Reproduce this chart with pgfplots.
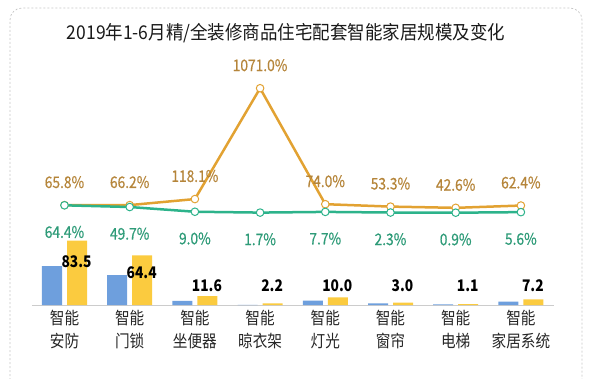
\documentclass[border=0pt]{standalone}
\usepackage{fontspec}
\setmainfont{Noto Sans CJK SC}[FakeStretch=0.86]
\newfontfamily\titlefont{Noto Sans CJK SC}[FakeStretch=0.92]
\newfontfamily\labelfont{Noto Sans CJK SC}[FakeStretch=0.86, FakeBold=0.6]
\usepackage{pgfplots}
\pgfplotsset{compat=1.18}
\definecolor{cblue}{HTML}{6E9FDD}
\definecolor{cyellow}{HTML}{FBCB3F}
\definecolor{corange}{HTML}{E2A232}
\definecolor{corangetxt}{HTML}{B5853A}
\definecolor{cgreen}{HTML}{2DB38B}
\definecolor{cgreentxt}{HTML}{2E9B78}
\begin{document}
\begin{tikzpicture}
\path[use as bounding box] (0pt,0pt) rectangle (589pt,378pt);
\draw[gray!45, line width=0.7pt, dash pattern=on 2pt off 2pt, rounded corners=12pt]
  (10pt,-10pt) -- (10pt,370pt) -- (582pt,370pt) -- (582pt,-10pt);
\node[font=\titlefont\fontsize{19}{21}\selectfont, text=black!90] at (286pt,345pt) {2019年1-6月精/全装修商品住宅配套智能家居规模及变化};
% bars
\begin{axis}[
  at={(31.9pt,73pt)}, anchor=south west, scale only axis,
  width=521.6pt, height=230pt,
  xmin=-0.5, xmax=7.5, ymin=0, ymax=298.7,
  axis x line*=bottom, axis y line=none,
  x axis line style={draw=gray!40, line width=0.6pt, -},
  xtick={0,...,7}, major tick length=0pt,
  xticklabels={{智能\\安防},{智能\\门锁},{智能\\坐便器},{智能\\晾衣架},{智能\\灯光},{智能\\窗帘},{智能\\电梯},{智能\\家居系统}},
  xticklabel style={align=center, font=\fontsize{17}{23}\selectfont, text=black!85, yshift=-2pt},
  ybar, bar width=20pt, clip=false,
]
\addplot[fill=cblue, draw=none, bar shift=-12.5pt] coordinates {(0,50.4) (1,38.7) (2,5.3) (3,0.19) (4,5.7) (5,1.96) (6,0.77) (7,4.4)};
\addplot[fill=cyellow, draw=none, bar shift=12.5pt] coordinates {(0,83.5) (1,64.4) (2,11.6) (3,2.2) (4,10.0) (5,3.0) (6,1.1) (7,7.2)};
\addplot[draw=none, mark=none, bar shift=0pt, bar width=0pt, point meta=explicit symbolic,
  nodes near coords, every node near coord/.style={anchor=center, xshift=12pt, font=\bfseries\fontsize{16}{18}\selectfont, text=black}]
  coordinates {(0,55.8)[83.5] (1,41.6)[64.4] (2,25.1)[11.6] (3,25.1)[2.2] (4,25.1)[10.0] (5,25.1)[3.0] (6,25.1)[1.1] (7,25.1)[7.2]};
\end{axis}
% lines
\begin{axis}[
  at={(31.9pt,73pt)}, anchor=south west, scale only axis,
  width=521.6pt, height=230pt,
  xmin=-0.5, xmax=7.5, ymin=-792.8, ymax=1184.8,
  hide axis, clip=false,
]
\addplot[corange, line width=2.5pt, mark=*, mark size=3.8pt, mark options={fill=white, draw=corange, line width=1pt},
  point meta=explicit symbolic, nodes near coords,
  every node near coord/.style={anchor=center, yshift=23pt, text=corangetxt, font=\labelfont\fontsize{16}{18}\selectfont}]
  coordinates {(0,65.8)[65.8\%] (1,66.2)[66.2\%] (2,118.1)[118.1\%] (3,1071.0)[1071.0\%] (4,74.0)[74.0\%] (5,53.3)[53.3\%] (6,42.6)[42.6\%] (7,62.4)[62.4\%]};
\addplot[cgreen, line width=2.5pt, mark=*, mark size=3.8pt, mark options={fill=white, draw=cgreen, line width=1pt},
  point meta=explicit symbolic, nodes near coords,
  every node near coord/.style={anchor=center, yshift=-26.7pt, text=cgreentxt, font=\labelfont\fontsize{16}{18}\selectfont}]
  coordinates {(0,64.4)[64.4\%] (1,49.7)[49.7\%] (2,9.0)[9.0\%] (3,1.7)[1.7\%] (4,7.7)[7.7\%] (5,2.3)[2.3\%] (6,0.9)[0.9\%] (7,5.6)[5.6\%]};
\end{axis}
\end{tikzpicture}
\end{document}
